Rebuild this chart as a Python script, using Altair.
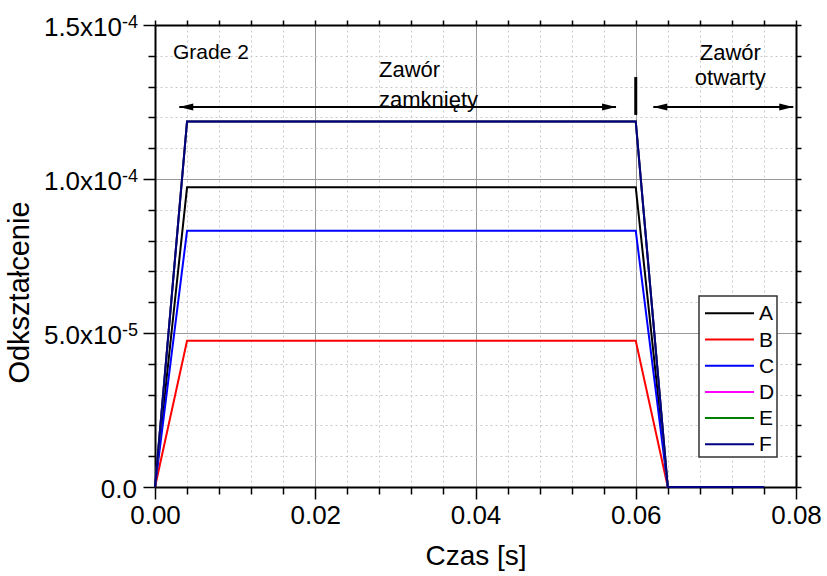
import altair as alt
import pandas as pd

# ---------------- data ----------------
time_s = [0.0, 0.004, 0.060, 0.064, 0.076]
series_names = ["A", "B", "C", "D", "E", "F"]
strain_A = [0.0, 9.73e-5, 9.73e-5, 0.0, 0.0]
strain_B = [0.0, 4.75e-5, 4.75e-5, 0.0, 0.0]
strain_C = [0.0, 8.32e-5, 8.32e-5, 0.0, 0.0]
strain_D = [0.0, 1.187e-4, 1.187e-4, 0.0, 0.0]
strain_E = [0.0, 1.187e-4, 1.187e-4, 0.0, 0.0]
strain_F = [0.0, 1.187e-4, 1.187e-4, 0.0, 0.0]
series_colors = ["#000000", "#ff0000", "#0000ff", "#ff00ff", "#008000", "#000080"]

x_major = [0.00, 0.02, 0.04, 0.06, 0.08]
x_major_labels = ["0.00", "0.02", "0.04", "0.06", "0.08"]
y_major = [0.0, 5e-5, 1e-4, 1.5e-4]
y_label_base = ["0.0", "5.0x10", "1.0x10", "1.5x10"]
y_label_exp = ["", "-5", "-4", "-4"]
x_minor = [0.004, 0.008, 0.012, 0.016, 0.024, 0.028, 0.032, 0.036,
           0.044, 0.048, 0.052, 0.056, 0.064, 0.068, 0.072, 0.076]
y_minor = [1e-5, 2e-5, 3e-5, 4e-5, 6e-5, 7e-5, 8e-5, 9e-5,
           1.1e-4, 1.2e-4, 1.3e-4, 1.4e-4]

# annotations
arrow_x_start = [0.00303, 0.06219]
arrow_x_end = [0.05754, 0.07966]
arrow_y = [1.234e-4, 1.234e-4]
marker_x = [0.06]
marker_y_top = [1.331e-4]
marker_y_bottom = [1.208e-4]
left_texts = ["Grade 2", "Zawór", "zamknięty"]
left_text_x = [0.00225, 0.02796, 0.02796]
left_text_y = [1.390e-4, 1.332e-4, 1.235e-4]
right_texts = ["Zawór", "otwarty"]
right_text_x = [0.0718, 0.0718]
right_text_y = [1.386e-4, 1.305e-4]

# ---------------- tables ----------------
all_strain = [strain_A, strain_B, strain_C, strain_D, strain_E, strain_F]
rows = []
for name, vals in zip(series_names, all_strain):
    for t, v in zip(time_s, vals):
        rows.append({"t": t, "v": v, "series": name})
df = pd.DataFrame(rows)

FONT = "Liberation Sans"
xs = alt.Scale(domain=[0, 0.08], nice=False, zero=False)
ys = alt.Scale(domain=[0, 1.5e-4], nice=False, zero=False)
color_scale = alt.Scale(domain=series_names, range=series_colors)

x_label_expr = ""
for v, lab in zip(x_major, x_major_labels):
    x_label_expr += f"abs(datum.value - {v}) < 1e-9 ? '{lab}' : "
x_label_expr += "''"

# minor grid + minor ticks (bottom / left)
minor_x_axis = alt.Axis(orient="bottom", values=x_minor, labels=False, domain=False,
                        tickSize=7, tickColor="black", tickWidth=1.5,
                        grid=True, gridColor="#c8c8c8", gridDash=[2, 3], gridWidth=1,
                        title=None)
minor_y_axis = alt.Axis(orient="left", values=y_minor, labels=False, domain=False,
                        tickSize=7, tickColor="black", tickWidth=1.5,
                        grid=True, gridColor="#c8c8c8", gridDash=[2, 3], gridWidth=1,
                        title=None)
minor_layer = alt.Chart(df).mark_line(opacity=0).encode(
    x=alt.X("t:Q", scale=xs, axis=minor_x_axis),
    y=alt.Y("v:Q", scale=ys, axis=minor_y_axis),
    detail="series:N",
)

# major axes
major_x_axis = alt.Axis(orient="bottom", values=x_major, labelExpr=x_label_expr,
                        labelFont=FONT, labelFontSize=26, labelColor="black",
                        labelPadding=3, labelFlush=False, labelOverlap=False,
                        tickSize=12, tickColor="black", tickWidth=1.5,
                        domainColor="black", domainWidth=2,
                        grid=True, gridColor="#999999", gridWidth=1,
                        title="Czas [s]", titleFont=FONT, titleFontSize=28,
                        titleFontWeight="normal", titleColor="black",
                        titleX=320.5, titleY=77, titleBaseline="alphabetic",
                        titleAlign="center")
major_y_axis = alt.Axis(orient="left", values=y_major, labels=False,
                        tickSize=12, tickColor="black", tickWidth=1.5,
                        domainColor="black", domainWidth=2,
                        grid=True, gridColor="#999999", gridWidth=1,
                        title="Odkształcenie", titleFont=FONT, titleFontSize=29,
                        titleFontWeight="normal", titleColor="black",
                        titleAngle=270, titleX=-127, titleY=267,
                        titleBaseline="alphabetic", titleAlign="center")

lines = alt.Chart(df).mark_line(strokeWidth=2).encode(
    x=alt.X("t:Q", scale=xs, axis=major_x_axis),
    y=alt.Y("v:Q", scale=ys, axis=major_y_axis),
    color=alt.Color("series:N", scale=color_scale, legend=None, sort=series_names),
)

# frame: top and right axes
top_axis = alt.Axis(orient="top", values=x_major + x_minor, labels=False,
                    tickSize=5, tickColor="black", tickWidth=1.5,
                    domainColor="black", domainWidth=2, grid=False, title=None)
right_axis = alt.Axis(orient="right", values=y_major + y_minor, labels=False,
                      tickSize=5, tickColor="black", tickWidth=1.5,
                      domainColor="black", domainWidth=2, grid=False, title=None)
frame_layer = alt.Chart(df).mark_line(opacity=0).encode(
    x=alt.X("t:Q", scale=xs, axis=top_axis),
    y=alt.Y("v:Q", scale=ys, axis=right_axis),
    detail="series:N",
)

# y tick labels with superscript exponents
ylab_df = pd.DataFrame({"value": y_major, "base": y_label_base, "exp": y_label_exp})
ylab_base = alt.Chart(ylab_df).transform_filter("datum.exp != ''").mark_text(
    align="right", baseline="alphabetic", font=FONT, fontSize=26, color="black", dy=11
).encode(
    x=alt.value(-33),
    y=alt.Y("value:Q", scale=ys, axis=None),
    text="base:N",
)
ylab_exp = alt.Chart(ylab_df).transform_filter("datum.exp != ''").mark_text(
    align="left", baseline="alphabetic", font=FONT, fontSize=18, color="black", dy=3
).encode(
    x=alt.value(-33),
    y=alt.Y("value:Q", scale=ys, axis=None),
    text="exp:N",
)
ylab_zero = alt.Chart(ylab_df).transform_filter("datum.exp == ''").mark_text(
    align="right", baseline="alphabetic", font=FONT, fontSize=26, color="black", dy=11
).encode(
    x=alt.value(-18),
    y=alt.Y("value:Q", scale=ys, axis=None),
    text="base:N",
)

# arrows
arrows_df = pd.DataFrame({"x": arrow_x_start, "x2": arrow_x_end, "y": arrow_y})
arrow_lines = alt.Chart(arrows_df).mark_rule(color="black", strokeWidth=2).encode(
    x=alt.X("x:Q", scale=xs, axis=None),
    x2="x2:Q",
    y=alt.Y("y:Q", scale=ys, axis=None),
)
heads_df = pd.DataFrame({
    "x": arrow_x_start + arrow_x_end,
    "y": arrow_y + arrow_y,
    "dir": ["left", "left", "right", "right"],
})
arrow_heads = alt.Chart(heads_df).mark_point(filled=True, color="black", opacity=1,
                                              size=784, strokeWidth=0).encode(
    x=alt.X("x:Q", scale=xs, axis=None),
    y=alt.Y("y:Q", scale=ys, axis=None),
    shape=alt.Shape("dir:N", legend=None,
                    scale=alt.Scale(domain=["left", "right"],
                                    range=["M0,0L1,-0.25L1,0.25Z", "M0,0L-1,-0.25L-1,0.25Z"])),
)
marker_df = pd.DataFrame({"x": marker_x, "y": marker_y_top, "y2": marker_y_bottom})
marker = alt.Chart(marker_df).mark_rule(color="black", strokeWidth=3).encode(
    x=alt.X("x:Q", scale=xs, axis=None),
    y=alt.Y("y:Q", scale=ys, axis=None),
    y2="y2:Q",
)

left_df = pd.DataFrame({"text": left_texts, "x": left_text_x, "y": left_text_y,
                        "size": [21, 22, 22]})
left_text = alt.Chart(left_df).mark_text(align="left", baseline="alphabetic",
                                          font=FONT, color="black").encode(
    x=alt.X("x:Q", scale=xs, axis=None),
    y=alt.Y("y:Q", scale=ys, axis=None),
    text="text:N",
    size=alt.Size("size:Q", scale=None, legend=None),
)
right_df = pd.DataFrame({"text": right_texts, "x": right_text_x, "y": right_text_y})
right_text = alt.Chart(right_df).mark_text(align="center", baseline="alphabetic",
                                            font=FONT, fontSize=22, color="black").encode(
    x=alt.X("x:Q", scale=xs, axis=None),
    y=alt.Y("y:Q", scale=ys, axis=None),
    text="text:N",
)

main = alt.layer(
    minor_layer, frame_layer, lines, arrow_lines, arrow_heads, marker,
    left_text, right_text, ylab_base, ylab_exp, ylab_zero
).resolve_axis(x="independent", y="independent")

# legend (drawn by hand, rows placed by a point scale over the series names)
legend_df = pd.DataFrame({"series": series_names})
legend_rows = alt.Scale(type="point", domain=series_names, range=[288.3, 419.3], padding=0)
legend_box = alt.Chart(legend_df).mark_rect(
    fill="white", stroke="#333333", strokeWidth=1.5
).encode(
    x=alt.value(544), x2=alt.value(622), y=alt.value(271), y2=alt.value(432)
).transform_filter("datum.series == 'A'")
legend_lines = alt.Chart(legend_df).mark_rule(strokeWidth=2).encode(
    x=alt.value(550), x2=alt.value(599),
    y=alt.Y("series:N", scale=legend_rows, axis=None),
    color=alt.Color("series:N", scale=color_scale, legend=None),
)
legend_labels = alt.Chart(legend_df).mark_text(
    align="left", baseline="middle", font=FONT, fontSize=21, color="black", dy=1
).encode(
    x=alt.value(604),
    y=alt.Y("series:N", scale=legend_rows, axis=None),
    text="series:N",
)
legend_part = alt.layer(legend_box, legend_lines, legend_labels)

chart = alt.layer(main, legend_part).resolve_scale(y="independent").properties(
    width=641, height=462,
    autosize=alt.AutoSizeParams(type="none"),
    padding={"left": 155, "top": 25, "right": 31, "bottom": 89},
    background="white",
).configure_view(stroke=None)

chart.save("out.html", embed_options={"renderer": "svg", "actions": False})
